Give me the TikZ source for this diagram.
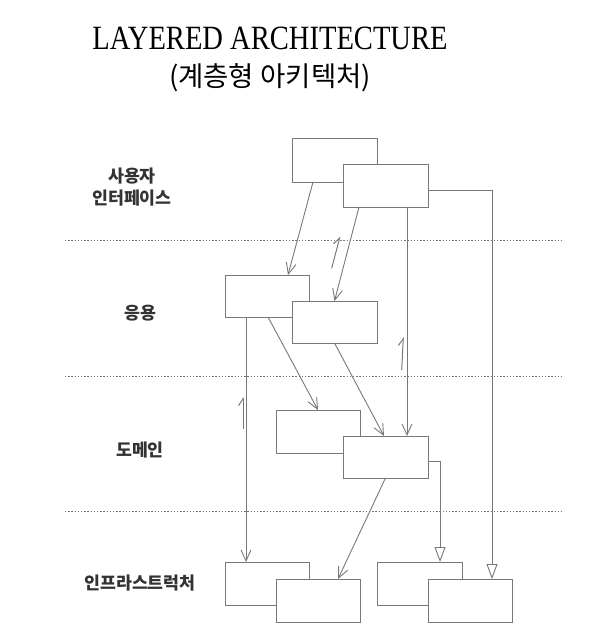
\documentclass[tikz,border=0pt]{standalone}
\usepackage{fontspec}
\setmainfont{Liberation Serif}
\newfontfamily\kr{Noto Sans CJK KR}
\usetikzlibrary{arrows.meta,calc}
\definecolor{lc}{RGB}{120,120,120}
\tikzset{
  box/.style={draw=lc, line width=0.9pt, fill=white, inner sep=0pt, outer sep=0pt, minimum width=85pt, minimum height=43pt},
  conn/.style={draw=lc, line width=0.9pt},
  dep/.style={conn, -{Straight Barb[length=11pt,width=10pt,line width=0.9pt]}},
  inh/.style={conn, -{Triangle[open,length=15pt,width=11pt,line width=0.9pt]}},
  layerline/.style={draw=lc, line width=1.3pt, dash pattern=on 1.3pt off 1.9pt},
  harp/.style={draw=lc, line width=1pt, -{Straight Barb[harpoon,length=7pt,width=9pt,line width=1pt]}},
  lbl/.style={font=\kr\bfseries\fontsize{17.3pt}{22pt}\selectfont, text=black!80, inner sep=0pt, align=center},
}
\begin{document}
\begin{tikzpicture}[x=1pt,y=-1pt]
\useasboundingbox (0,0) rectangle (608,644);

% titles
\node[inner sep=0pt] (t1) at (270,38) {\scalebox{0.84}[1]{\fontsize{34pt}{36pt}\selectfont LAYERED ARCHITECTURE}};
\node[inner sep=0pt, font=\kr\fontsize{27.5pt}{30pt}\selectfont] (t2) at (270,78) {(계층형 아키텍처)};

% layer separators
\coordinate (d1a) at (65,240.7); \coordinate (d1b) at (563,240.7);
\coordinate (d2a) at (65,376.7); \coordinate (d2b) at (563,376.7);
\coordinate (d3a) at (65,511.7); \coordinate (d3b) at (563,511.7);
\draw[layerline] (d1a) -- (d1b);
\draw[layerline] (d2a) -- (d2b);
\draw[layerline] (d3a) -- (d3b);

% labels
\node[lbl] (lui) at (132,187) {사용자\\인터페이스};
\node[lbl] (lapp) at (140,313) {응용};
\node[lbl] (ldom) at (140,450) {도메인};
\node[lbl] (linf) at (140,583) {인프라스트럭처};

% boxes
\node[box, minimum width=85pt, minimum height=44pt] (ui1) at (334.5,160) {};
\node[box, minimum width=85pt, minimum height=43pt] (ui2) at (385.5,185.5) {};
\node[box, minimum width=84pt, minimum height=42pt] (app1) at (267,296) {};
\node[box, minimum width=85pt, minimum height=42pt] (app2) at (334.5,322) {};
\node[box, minimum width=84pt, minimum height=43pt] (dom1) at (318,431.5) {};
\node[box, minimum width=85pt, minimum height=42pt] (dom2) at (385.5,457) {};
\node[box, minimum width=84pt, minimum height=43pt] (inf1) at (267,583.5) {};
\node[box, minimum width=84pt, minimum height=43pt] (inf2) at (318,600.5) {};
\node[box, minimum width=85pt, minimum height=43pt] (inf3) at (419.5,583.5) {};
\node[box, minimum width=84pt, minimum height=43pt] (inf4) at (470,600.5) {};

% dependencies
\draw[dep] ([xshift=21pt]ui1.south west) -- ([xshift=63pt]app1.north west);
\draw[dep] ([xshift=16pt]ui2.south west) -- (app2.north);
\draw[dep] ([xshift=64pt]ui2.south west) -- ([xshift=64pt]dom2.north west);
\draw[inh] ([yshift=-5pt]ui2.east) -| ([xshift=64pt]inf4.north west);
\draw[dep] ([xshift=21pt]app1.south west) -- ([xshift=21pt]inf1.north west);
\draw[dep] ([xshift=43pt]app1.south west) -- (dom1.north);
\draw[dep] (app2.south) -- ([xshift=41pt]dom2.north west);
\draw[dep] (dom2.south) -- ([xshift=62pt]inf2.north west);
\draw[inh] ([yshift=-4pt]dom2.east) -| ([xshift=63pt]inf3.north west);

% small upward harpoons
\coordinate (h1a) at (331.7,268.3); \coordinate (h1b) at (340,236.5);
\coordinate (h2a) at (401.7,370); \coordinate (h2b) at (403.3,337);
\coordinate (h3a) at (243,429); \coordinate (h3b) at (243,397);
\draw[harp] (h1a) -- (h1b);
\draw[harp] (h2a) -- (h2b);
\draw[harp] (h3a) -- (h3b);
\end{tikzpicture}
\end{document}
